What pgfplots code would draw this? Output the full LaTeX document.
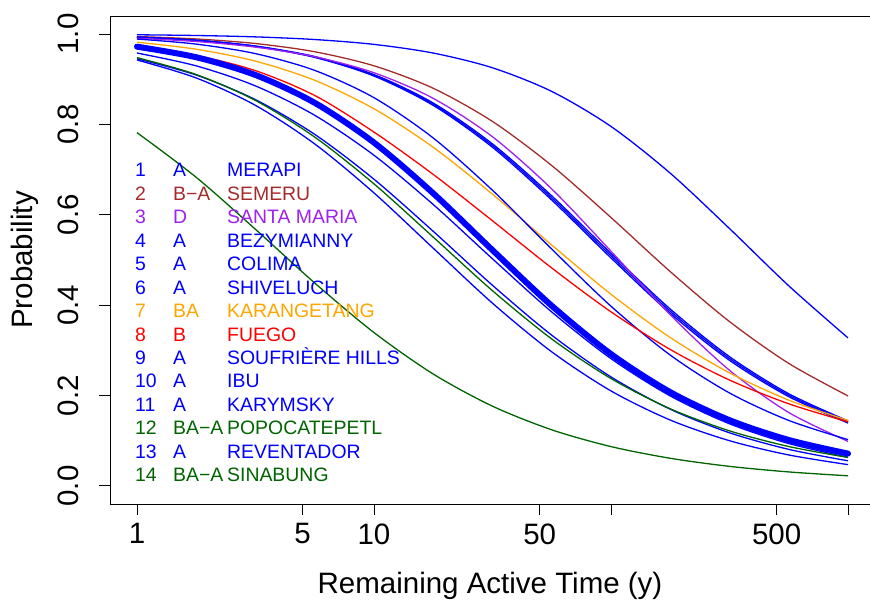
\documentclass[border=0pt]{standalone}
\usepackage{pgfplots}
\usepackage{pgfplotstable}
\pgfplotsset{compat=1.18}
\usepackage{fontspec}
\setmainfont{Liberation Sans}
\definecolor{rblue}{RGB}{0,0,255}
\definecolor{rbrown}{RGB}{165,42,42}
\definecolor{rpurple}{RGB}{160,32,240}
\definecolor{rorange}{RGB}{255,165,0}
\definecolor{rred}{RGB}{255,0,0}
\definecolor{rgreen}{RGB}{0,100,0}
\pgfplotstableread{
x       T      M       S       P       B1      B2      B3      O       R       X       A       B       G       C       N
1       .9721  .99845  .99460  .99062  .99331  .99317  .99303  .98201  .97288  .98902  .95810  .94531  .94784  .94267  .78192
1.7783  .9487  .99686  .98921  .98350  .98648  .98621  .98594  .96649  .95274  .97778  .92961  .90933  .91047  .90285  .68292
3.1623  .9094  .99378  .97908  .97109  .97357  .97305  .97253  .94005  .91903  .95671  .88526  .85485  .85309  .84218  .56786
5.6234  .8478  .98793  .96087  .94986  .95024  .94928  .94832  .89767  .86410  .91962  .82022  .77803  .77202  .75685  .44907
10      .7598  .97716  .92975  .91444  .91041  .90875  .90709  .83466  .78310  .85918  .73179  .67875  .66845  .64844  .33940
17.783  .6475  .95798  .87999  .85771  .84736  .84474  .84212  .74935  .68937  .76999  .62274  .56343  .55066  .52613  .24763
31.623  .5218  .92534  .80658  .77267  .75688  .75316  .74944  .64558  .58672  .65428  .50260  .44399  .43197  .40437  .17647
56.234  .3987  .87304  .70902  .65720  .64189  .63727  .63265  .53315  .48228  .52416  .38494  .33356  .32517  .29668  .12418
100     .2918  .79555  .59397  .51944  .51447  .50947  .50447  .42414  .38530  .39766  .28169  .24120  .23763  .21024  .08705
177.83  .2075  .69204  .47427  .37874  .39138  .38664  .38190  .32836  .30190  .28950  .19910  .16979  .17072  .14581  .06118
316.23  .1455  .56954  .36369  .25584  .28604  .28199  .27794  .25026  .23434  .20569  .13750  .11762  .12188  .10006  .04330
562.34  .1017  .44285  .27113  .16241  .20401  .20080  .19759  .18998  .18176  .14491  .09377  .08089  .08721  .06853  .03096
1000    .0715  .32752  .19915  .09856  .14405  .14162  .13919  .14498  .14185  .10249  .06361  .05560  .06293  .04713  .02241
}\curves
\newcommand{\vrow}[5]{\node[anchor=base west, inner sep=0pt, text=#2, font=\fontsize{19.5}{22}\selectfont] at (axis cs:0.9807,#1) {\makebox[38bp][l]{#3}\makebox[54bp][l]{#4}#5};}
\begin{document}
\begin{tikzpicture}
\begin{axis}[
  width=760bp, height=488bp, scale only axis,
  xmode=log, xmin=0.7695, xmax=1238, ymin=-0.04, ymax=1.04,
  axis x line*=bottom, axis y line*=left,
  axis line style={-, line width=0.9bp, black},
  xtick={1,5,10,50,100,500,1000}, xticklabels={1,5,10,50,,500,},
  ytick={0,0.2,0.4,0.6,0.8,1.0}, yticklabels={0.0,0.2,0.4,0.6,0.8,1.0},
  xminorticks=false, yminorticks=false,
  tick align=outside, major tick length=11bp,
  tick style={black, line width=0.9bp},
  tick label style={font=\fontsize{29.6}{34}\selectfont},
  yticklabel style={rotate=90, anchor=south},
  xticklabel shift=5bp, yticklabel shift=17bp,
  label style={font=\fontsize{29.6}{34}\selectfont},
  xlabel={Remaining Active Time (y)},
  ylabel={Probability},
  xlabel style={at={(axis description cs:0.5,0)}, anchor=base, yshift=-89bp},
  ylabel style={at={([xshift=-77bp]axis description cs:0,0.5)}, anchor=base},
  /pgf/number format/assume math mode=true,
  every axis plot/.append style={line width=1.3bp, smooth},
]
\draw[line width=0.9bp, black] (rel axis cs:0,1) -- (rel axis cs:1,1);
\coordinate (bl) at (rel axis cs:0,0);
\coordinate (tr) at (rel axis cs:1,1);
\addplot[rblue]   table[x=x, y=M]  {\curves};
\addplot[rbrown]  table[x=x, y=S]  {\curves};
\addplot[rblue]   table[x=x, y=B1] {\curves};
\addplot[rblue]   table[x=x, y=B2] {\curves};
\addplot[rblue]   table[x=x, y=B3] {\curves};
\addplot[rpurple] table[x=x, y=P]  {\curves};
\addplot[rorange] table[x=x, y=O]  {\curves};
\addplot[rblue]   table[x=x, y=X]  {\curves};
\addplot[rred]    table[x=x, y=R]  {\curves};
\addplot[rblue]   table[x=x, y=A]  {\curves};
\addplot[rblue]   table[x=x, y=B]  {\curves};
\addplot[rgreen]  table[x=x, y=G]  {\curves};
\addplot[rblue]   table[x=x, y=C]  {\curves};
\addplot[rgreen]  table[x=x, y=N]  {\curves};
\addplot[rblue, line width=6bp, line cap=round] table[x=x, y=T] {\curves};
\vrow{0.6838}{rblue}{1}{A}{MERAPI}
\vrow{0.6319}{rbrown}{2}{B−A}{SEMERU}
\vrow{0.5801}{rpurple}{3}{D}{SANTA MARIA}
\vrow{0.5282}{rblue}{4}{A}{BEZYMIANNY}
\vrow{0.4763}{rblue}{5}{A}{COLIMA}
\vrow{0.4245}{rblue}{6}{A}{SHIVELUCH}
\vrow{0.3726}{rorange}{7}{BA}{KARANGETANG}
\vrow{0.3207}{rred}{8}{B}{FUEGO}
\vrow{0.2688}{rblue}{9}{A}{SOUFRIÈRE HILLS}
\vrow{0.2170}{rblue}{10}{A}{IBU}
\vrow{0.1651}{rblue}{11}{A}{KARYMSKY}
\vrow{0.1132}{rgreen}{12}{BA−A}{POPOCATEPETL}
\vrow{0.0614}{rblue}{13}{A}{REVENTADOR}
\vrow{0.0096}{rgreen}{14}{BA−A}{SINABUNG}
\end{axis}
\pgfresetboundingbox
\path[use as bounding box] ([xshift=-110bp,yshift=-97bp]bl) rectangle ([yshift=16bp]tr);
\end{tikzpicture}
\end{document}
